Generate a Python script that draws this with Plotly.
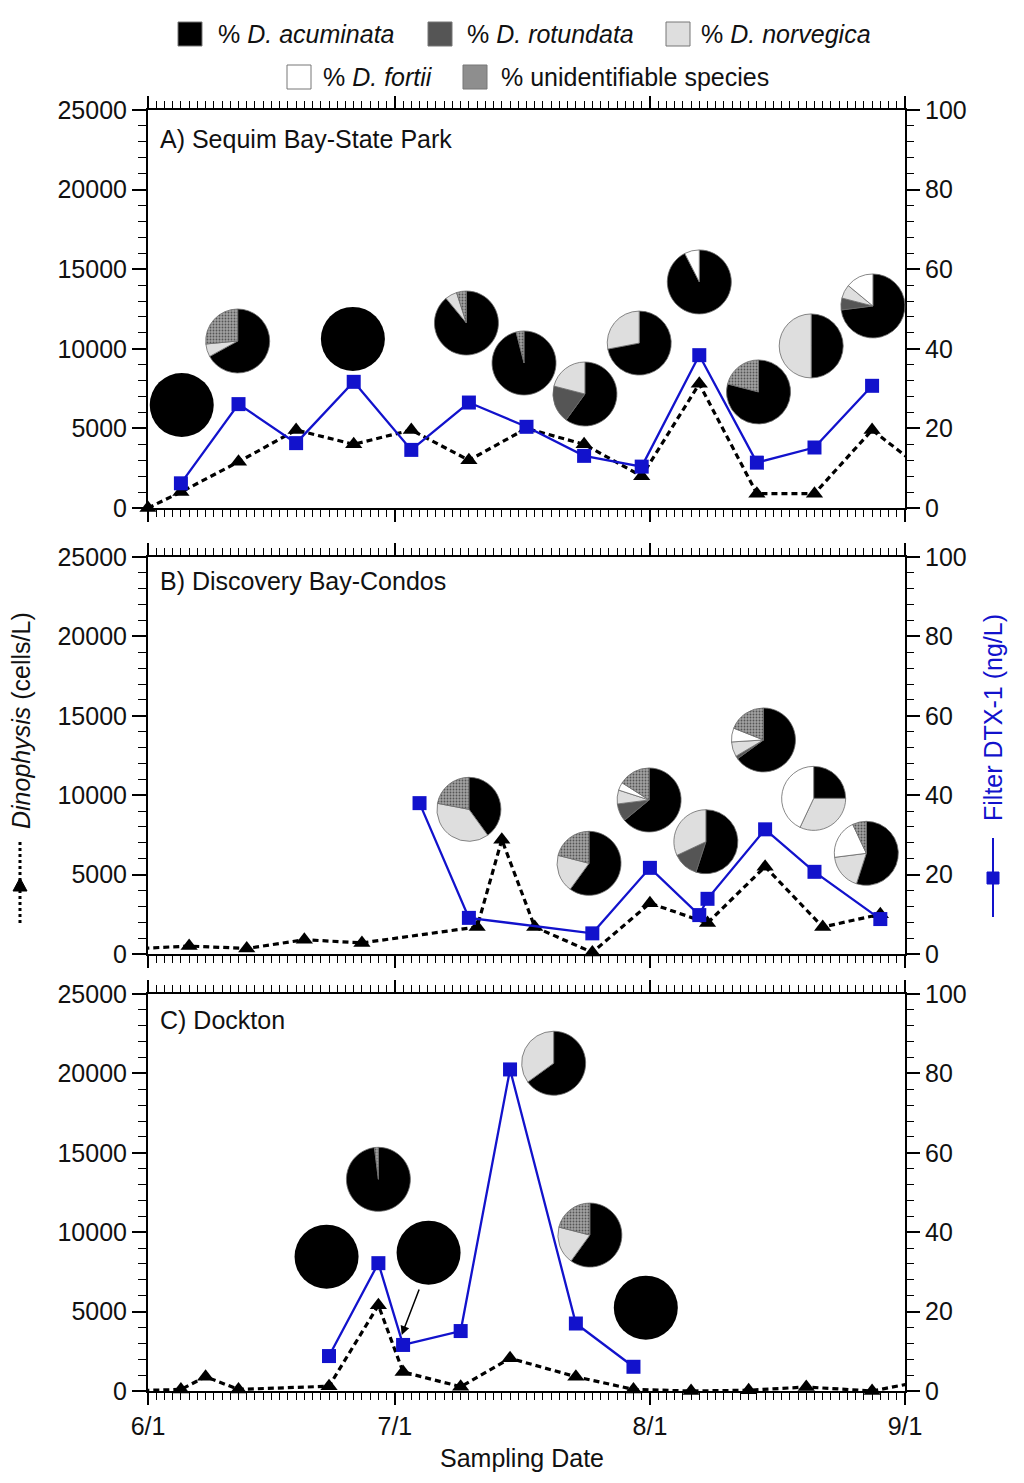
import plotly.graph_objects as go
from datetime import datetime

# ---------------- data ----------------
SPECIES = ["% D. acuminata", "% D. rotundata", "% D. norvegica", "% D. fortii", "% unidentifiable species"]

# Panel A  Sequim Bay-State Park
A_CELL_DATES = ["2012-06-01", "2012-06-05", "2012-06-12", "2012-06-19", "2012-06-26", "2012-07-03",
                "2012-07-10", "2012-07-17", "2012-07-24", "2012-07-31", "2012-08-07", "2012-08-14",
                "2012-08-21", "2012-08-28", "2012-09-04"]
A_CELLS = [0, 1000, 2900, 4900, 4000, 4900, 3000, 5000, 4000, 2000, 7800, 900, 900, 4900, 2100]
A_DTX_DATES = ["2012-06-05", "2012-06-12", "2012-06-19", "2012-06-26", "2012-07-03", "2012-07-10",
               "2012-07-17", "2012-07-24", "2012-07-31", "2012-08-07", "2012-08-14", "2012-08-21",
               "2012-08-28"]
A_DTX = [6.2, 26.1, 16.3, 31.7, 14.6, 26.5, 20.4, 13.1, 10.4, 38.4, 11.4, 15.2, 30.7]
A_PIES = [[100, 0, 0, 0, 0], [67, 0, 6.5, 0, 26.5], [100, 0, 0, 0, 0], [89, 0, 6, 0, 5],
          [96, 0, 0, 0, 4], [60, 19, 21, 0, 0], [72, 0, 28, 0, 0], [92.5, 0, 0, 7.5, 0],
          [79, 0, 0, 0, 21], [50, 0, 50, 0, 0], [73, 6, 7, 14, 0]]

# Panel B  Discovery Bay-Condos
B_CELL_DATES = ["2012-05-29", "2012-06-06", "2012-06-13", "2012-06-20", "2012-06-27", "2012-07-11",
                "2012-07-14", "2012-07-18", "2012-07-25", "2012-08-01", "2012-08-08", "2012-08-15",
                "2012-08-22", "2012-08-29"]
B_CELLS = [300, 500, 350, 900, 700, 1700, 7200, 1700, 100, 3200, 1950, 5500, 1700, 2500]
B_DTX_DATES = ["2012-07-04", "2012-07-10", "2012-07-25", "2012-08-01", "2012-08-07", "2012-08-08",
               "2012-08-15", "2012-08-21", "2012-08-29"]
B_DTX = [38.0, 9.1, 5.2, 21.7, 9.8, 13.9, 31.4, 20.7, 8.8]
B_PIES = [[40, 0, 38, 0, 22], [60, 0, 19, 0, 21], [64, 9, 7, 4, 16], [55, 13, 32, 0, 0],
          [65, 1.5, 7.5, 7, 19], [25, 0, 32, 43, 0], [55, 0, 18, 20, 7]]

# Panel C  Dockton
C_CELL_DATES = ["2012-05-29", "2012-06-05", "2012-06-08", "2012-06-12", "2012-06-23", "2012-06-29",
                "2012-07-02", "2012-07-09", "2012-07-15", "2012-07-23", "2012-07-30", "2012-08-06",
                "2012-08-13", "2012-08-20", "2012-08-28", "2012-09-04"]
C_CELLS = [0, 100, 900, 100, 300, 5400, 1200, 270, 2060, 900, 100, 0, 50, 250, 0, 700]
C_DTX_DATES = ["2012-06-23", "2012-06-29", "2012-07-02", "2012-07-09", "2012-07-15", "2012-07-23",
               "2012-07-30"]
C_DTX = [8.8, 32.2, 11.6, 15.1, 81.0, 17.0, 6.1]
C_PIES = [[100, 0, 0, 0, 0], [98, 0, 0, 0, 2], [100, 0, 0, 0, 0], [65, 0, 35, 0, 0],
          [60, 0, 19, 0, 21], [100, 0, 0, 0, 0]]

# ---------------- layout / positions ----------------
OFF = 8  # page body margin
W, H = 1024 - OFF, 1483 - OFF
ML, MR, MT, MB = 148 - OFF, 119, 110 - OFF, 92
PW, PH = W - ML - MR, H - MT - MB
START, END = datetime(2012, 6, 1), datetime(2012, 9, 1)
YMAX, Y2MAX = 25000, 100
DOMAINS = {"A": [(1391 - 508) / PH, 1.0],
           "B": [(1391 - 954) / PH, (1391 - 557) / PH],
           "C": [0.0, (1391 - 994) / PH]}
# pie centres: (days after 6/1, cells/L on left axis)
PIE_POS = {
    "A": [(4.1, 6470), (10.9, 10490), (24.9, 10620), (38.7, 11620), (45.7, 9110), (53.1, 7160),
          (59.7, 10360), (67.0, 14200), (74.2, 7290), (80.6, 10180), (88.1, 12690)],
    "B": [(39.0, 9110), (53.6, 5710), (60.9, 9700), (67.8, 7070), (74.8, 13480), (80.9, 9800),
          (87.3, 6340)],
    "C": [(21.7, 8460), (28.0, 13330), (34.1, 8710), (49.3, 20640), (53.7, 9820), (60.5, 5250)],
}
PIE_R = 32

COL_SPECIES = ["#000000", "#555555", "#dedede", "#ffffff", "#8e8e8e"]
PATTERNS = ["", "", "", "", "."]
BLUE = "#1212cc"
FONT = "Liberation Sans, Arial, sans-serif"
FS = 25

fig = go.Figure()

panels = [("A", "x", "y", "y2", A_CELL_DATES, A_CELLS, A_DTX_DATES, A_DTX, A_PIES),
          ("B", "x2", "y3", "y4", B_CELL_DATES, B_CELLS, B_DTX_DATES, B_DTX, B_PIES),
          ("C", "x3", "y5", "y6", C_CELL_DATES, C_CELLS, C_DTX_DATES, C_DTX, C_PIES)]

total_days = (END - START).days

for key, xa, ya, ya2, cd, cv, dd, dv, pies in panels:
    fig.add_trace(go.Scatter(x=cd, y=cv, mode="lines", xaxis=xa, yaxis=ya,
                             line=dict(color="black", width=3.2, dash="6px,4px"),
                             showlegend=False, hoverinfo="skip"))
    inr = [(d, v) for d, v in zip(cd, cv) if START <= datetime.strptime(d, "%Y-%m-%d") <= END]
    fig.add_trace(go.Scatter(x=[p[0] for p in inr], y=[p[1] for p in inr], mode="markers",
                             xaxis=xa, yaxis=ya, cliponaxis=False,
                             marker=dict(symbol="triangle-up", size=15, color="black"),
                             showlegend=False))
    fig.add_trace(go.Scatter(x=dd, y=dv, mode="lines+markers", xaxis=xa, yaxis=ya2,
                             line=dict(color=BLUE, width=2.3),
                             marker=dict(symbol="square", size=14, color=BLUE),
                             showlegend=False))
    y0, y1 = DOMAINS[key]
    for comp, (day, val) in zip(pies, PIE_POS[key]):
        cx = day / total_days
        cy = y0 + val / YMAX * (y1 - y0)
        rx, ry = PIE_R / PW, PIE_R / PH
        keep = [i for i, v in enumerate(comp) if v > 0]
        fig.add_trace(go.Pie(
            values=[comp[i] for i in keep], labels=[SPECIES[i] for i in keep],
            sort=False, direction="clockwise", rotation=0,
            textinfo="none", hoverinfo="label+percent", showlegend=False,
            domain=dict(x=[max(0, cx - rx), min(1, cx + rx)], y=[max(0, cy - ry), min(1, cy + ry)]),
            marker=dict(colors=[COL_SPECIES[i] for i in keep],
                        line=dict(color="#6a6a6a", width=0.8 if len(keep) > 1 else 0),
                        pattern=dict(shape=[PATTERNS[i] for i in keep], fgcolor="#555555",
                                     bgcolor="#a2a2a2", size=3, solidity=0.3, fillmode="replace")),
        ))

axis_common = dict(showline=True, linecolor="black", linewidth=2, showgrid=False, zeroline=False,
                   ticks="outside", tickcolor="black", tickwidth=1.5,
                   tickfont=dict(family=FONT, size=FS, color="#111"))

layout = dict(width=W, height=H, margin=dict(l=ML, r=MR, t=MT, b=MB),
              paper_bgcolor="white", plot_bgcolor="white", showlegend=False,
              font=dict(family=FONT, size=FS, color="#111"))

for key, xa, ya, ya2, *_rest in panels:
    xname = "xaxis" if xa == "x" else "xaxis" + xa[1:]
    yname = "yaxis" if ya == "y" else "yaxis" + ya[1:]
    y2name = "yaxis" + ya2[1:]
    layout[xname] = dict(axis_common, type="date", range=["2012-06-01", "2012-09-01"],
                         domain=[0, 1], anchor=ya, mirror="ticks",
                         dtick="M1", tick0="2012-06-01", tickformat="%-m/%-d", ticklen=12,
                         showticklabels=(key == "C"),
                         minor=dict(ticks="outside", ticklen=7, tickcolor="black", tickwidth=1.2,
                                    dtick=86400000, tick0="2012-06-01", showgrid=False))
    layout[yname] = dict(axis_common, range=[0, YMAX], domain=DOMAINS[key], anchor=xa,
                         dtick=5000, tickformat="d", ticklen=14,
                         minor=dict(ticks="outside", ticklen=8, tickcolor="black", tickwidth=1.2,
                                    dtick=1000, showgrid=False))
    layout[y2name] = dict(axis_common, range=[0, Y2MAX], overlaying=ya, side="right", anchor=xa,
                          dtick=20, ticklen=13,
                          minor=dict(ticks="outside", ticklen=7, tickcolor="black", tickwidth=1.2,
                                     dtick=4, showgrid=False))

fig.update_layout(**layout)


def px_x(v):
    return (v - 148) / PW


def px_y(v):
    return (1391 - v) / PH


ann = []
titles = {"A": ("A) Sequim Bay-State Park", 139), "B": ("B) Discovery Bay-Condos", 581),
          "C": ("C) Dockton", 1020)}
for key, (t, ypx) in titles.items():
    ann.append(dict(text=t, xref="paper", yref="paper", x=px_x(158), y=px_y(ypx),
                    xanchor="left", yanchor="middle", showarrow=False,
                    font=dict(family=FONT, size=FS, color="#111")))

ann.append(dict(text="Sampling Date", xref="paper", yref="paper", x=px_x(522), y=px_y(1458),
                xanchor="center", yanchor="middle", showarrow=False,
                font=dict(family=FONT, size=FS, color="#111")))
ann.append(dict(text="<i>Dinophysis</i> (cells/L)", xref="paper", yref="paper",
                x=px_x(21), y=px_y(720), textangle=-90, xanchor="center",
                yanchor="middle", showarrow=False, font=dict(family=FONT, size=FS, color="#111")))
ann.append(dict(text="Filter DTX-1 (ng/L)", xref="paper", yref="paper",
                x=px_x(993), y=px_y(718), textangle=-90, xanchor="center",
                yanchor="middle", showarrow=False, font=dict(family=FONT, size=FS, color=BLUE)))
ann.append(dict(text="", x="2012-07-01 20:00", y=14.1, xref="x3", yref="y6", ax=18, ay=-47,
                showarrow=True, arrowhead=2, arrowsize=1.2, arrowwidth=1.5, arrowcolor="black"))

# legend (manual)
leg_rows = [(34, [(178, 0, 216), (428, 1, 465), (666, 2, 699)]),
            (77, [(287, 3, 321), (463, 4, 499)])]
shapes = []
leg_text = ["% <i>D. acuminata</i>", "% <i>D. rotundata</i>", "% <i>D. norvegica</i>",
            "% <i>D. fortii</i>", "% unidentifiable species"]
for ypx, items in leg_rows:
    for sx, idx, tx in items:
        shapes.append(dict(type="rect", xref="paper", yref="paper",
                           x0=px_x(sx), x1=px_x(sx + 24), y0=px_y(ypx + 12), y1=px_y(ypx - 12),
                           fillcolor=COL_SPECIES[idx], line=dict(color="#777", width=1)))
        ann.append(dict(text=leg_text[idx], xref="paper", yref="paper", x=px_x(tx),
                        y=px_y(ypx), xanchor="left", yanchor="middle", showarrow=False,
                        font=dict(family=FONT, size=FS, color="#111")))

# axis-title glyphs
shapes.append(dict(type="line", xref="paper", yref="paper", x0=px_x(20), x1=px_x(20),
                   y0=px_y(842), y1=px_y(925), line=dict(color="black", width=3, dash="dot")))
shapes.append(dict(type="path", xref="paper", yref="paper",
                   path=f"M {px_x(13)},{px_y(891)} L {px_x(27)},{px_y(891)} L {px_x(20)},{px_y(878)} Z",
                   fillcolor="black", line=dict(color="black", width=1)))
shapes.append(dict(type="line", xref="paper", yref="paper", x0=px_x(993), x1=px_x(993),
                   y0=px_y(838), y1=px_y(917), line=dict(color=BLUE, width=2)))
shapes.append(dict(type="rect", xref="paper", yref="paper", x0=px_x(987), x1=px_x(999),
                   y0=px_y(884), y1=px_y(872), fillcolor=BLUE, line=dict(color=BLUE, width=1)))

fig.update_layout(annotations=ann, shapes=shapes)
fig.write_html("out.html")
